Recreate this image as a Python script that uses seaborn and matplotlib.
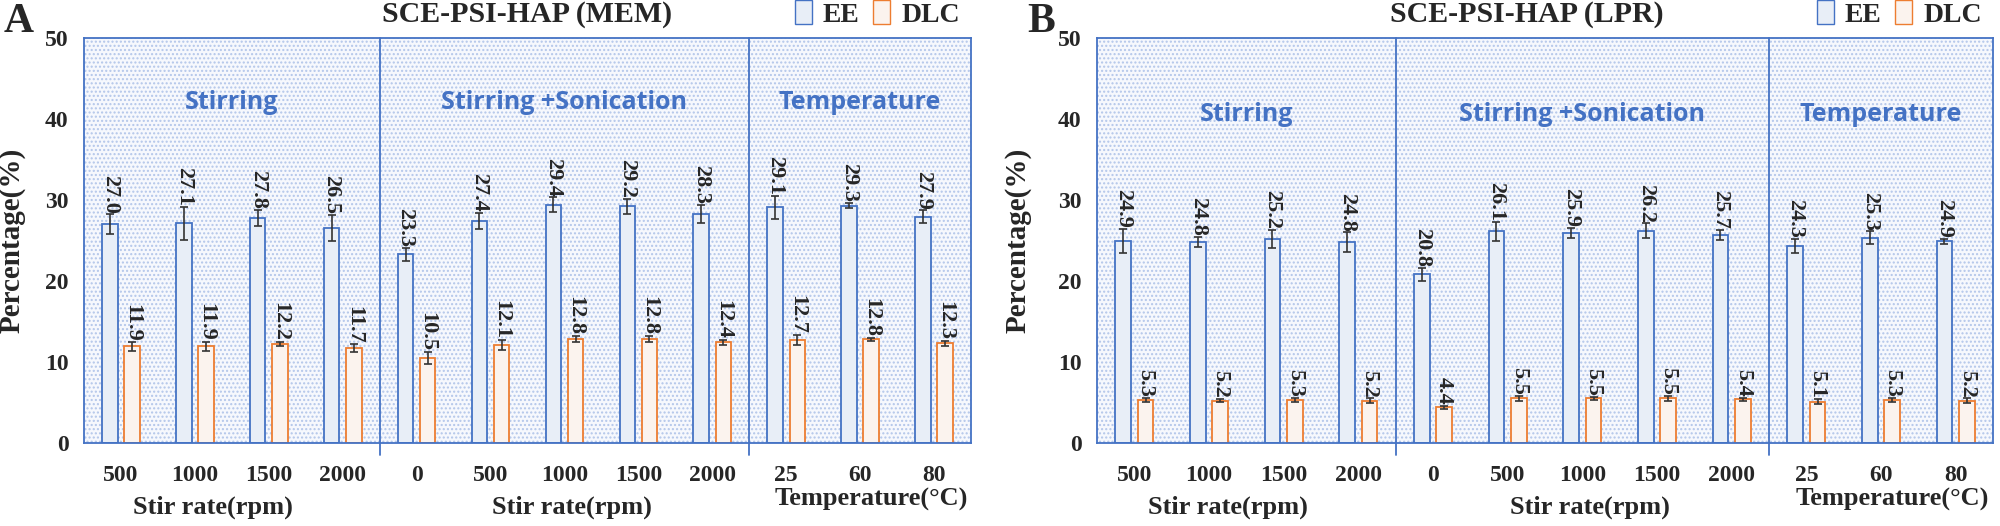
import numpy as np
import pandas as pd
import matplotlib
matplotlib.use('Agg')
import matplotlib.pyplot as plt
import seaborn as sns
from matplotlib.patches import Rectangle
from matplotlib.transforms import blended_transform_factory

# Данные
tick_labels = ['500', '1000', '1500', '2000', '0', '500', '1000', '1500', '2000', '25', '60', '80']
sections = ['Stirring', 'Stirring +Sonication', 'Temperature']
section_xlabels = ['Stir rate(rpm)', 'Stir rate(rpm)', 'Temperature(\u00b0C)']

mem_ee = [27.0, 27.1, 27.8, 26.5, 23.3, 27.4, 29.4, 29.2, 28.3, 29.1, 29.3, 27.9]
mem_ee_err = [1.2, 2.0, 1.0, 1.6, 0.8, 1.0, 0.9, 0.9, 1.1, 1.4, 0.3, 0.8]
mem_dlc = [11.9, 11.9, 12.2, 11.7, 10.5, 12.1, 12.8, 12.8, 12.4, 12.7, 12.8, 12.3]
mem_dlc_err = [0.5, 0.6, 0.3, 0.5, 0.7, 0.6, 0.4, 0.4, 0.3, 0.6, 0.2, 0.3]

lpr_ee = [24.9, 24.8, 25.2, 24.8, 20.8, 26.1, 25.9, 26.2, 25.7, 24.3, 25.3, 24.9]
lpr_ee_err = [1.5, 0.6, 1.1, 1.2, 0.8, 1.2, 0.6, 0.9, 0.6, 0.9, 0.8, 0.3]
lpr_dlc = [5.3, 5.2, 5.3, 5.2, 4.4, 5.5, 5.5, 5.5, 5.4, 5.1, 5.3, 5.2]
lpr_dlc_err = [0.3, 0.2, 0.3, 0.3, 0.2, 0.3, 0.2, 0.3, 0.2, 0.3, 0.3, 0.3]

BLUE = '#4472C4'
ORANGE = '#ED7D31'
serif = 'Liberation Serif'

sns.set_style('white')
plt.rcParams['font.family'] = [serif, 'DejaVu Sans']

fig = plt.figure(figsize=(20, 5.26), dpi=100)
ax_a = fig.add_axes([0.042, 0.158, 0.4435, 0.77])
ax_b = fig.add_axes([0.5485, 0.158, 0.448, 0.77])


def draw_panel(ax, ee, ee_err, dlc, dlc_err, title, letter, letter_x, sec_y, ylab_x, title_x):
    df = pd.DataFrame({
        'pos': list(range(len(ee))) * 2,
        'value': ee + dlc,
        'series': ['EE'] * len(ee) + ['DLC'] * len(dlc),
    })
    # фон в точку
    ax.add_patch(Rectangle((0, 0), 1, 1, transform=ax.transAxes, facecolor='#f6f8fd',
                           edgecolor='#b3c6ea', hatch='....', lw=0, zorder=0))
    sns.barplot(data=df, x='pos', y='value', hue='series', hue_order=['EE', 'DLC'],
                palette={'EE': '#e6edf9', 'DLC': '#fdf3ec'}, width=0.6, gap=0.3,
                errorbar=None, ax=ax, zorder=2)
    for cont, edge in zip(ax.containers, [BLUE, ORANGE]):
        for bar in cont:
            bar.set_edgecolor(edge)
            bar.set_linewidth(1.3)
    # погрешности и подписи значений
    for cont, vals, errs in zip(ax.containers, [ee, dlc], [ee_err, dlc_err]):
        xs = [b.get_x() + b.get_width() / 2 for b in cont]
        ax.errorbar(xs, vals, yerr=errs, fmt='none', ecolor='#333333', elinewidth=1.2,
                    capsize=3, capthick=1.2, zorder=4)
        for x, v, e in zip(xs, vals, errs):
            ax.text(x, v + e + 0.1, f'{v:.1f}', rotation=270, ha='center', va='bottom',
                    fontsize=16, fontweight='bold', family=serif, zorder=5)

    ax.set_xlim(-0.5, 11.5)
    ax.set_ylim(0, 50)
    ax.set_yticks([0, 10, 20, 30, 40, 50])
    ax.set_xticks(range(12))
    ax.set_xticklabels(tick_labels, fontsize=17, fontweight='bold', family=serif)
    ax.tick_params(axis='x', length=0, pad=16)
    ax.tick_params(axis='y', direction='in', length=7, width=1.2, color=BLUE, pad=11,
                   labelsize=17)
    for lab in ax.get_yticklabels():
        lab.set_fontweight('bold')
    ax.set_xlabel('')
    ax.set_ylabel('Percentage(%)', fontsize=21, fontweight='bold', family=serif)
    ax.yaxis.set_label_coords(ylab_x, 0.5)
    for sp in ax.spines.values():
        sp.set_color(BLUE)
        sp.set_linewidth(1.3)

    # разделители разделов
    for xb in [3.5, 8.5]:
        ax.axvline(xb, ymin=-0.03, ymax=1, color=BLUE, lw=1.3, clip_on=False, zorder=3)

    trans = blended_transform_factory(ax.transData, ax.transAxes)
    centers = [1.5, 6.0, 10.0]
    xl_centers = [1.25, 6.1, 10.15]
    xl_y = [-0.16, -0.16, -0.14]
    for c, name in zip(centers, sections):
        ax.text(c, sec_y, name, color=BLUE, fontsize=18, fontweight='bold', family='Open Sans',
                ha='center', va='center', zorder=5)
    for c, name, yy in zip(xl_centers, section_xlabels, xl_y):
        ax.text(c, yy, name, transform=trans, fontsize=19, fontweight='bold', family=serif,
                ha='center', va='center')

    ax.text(title_x, 1.057, title, transform=ax.transAxes, fontsize=21.5, fontweight='bold',
            family=serif, ha='center', va='center')
    fig.text(letter_x, 0.958, letter, fontsize=30, fontweight='bold', family=serif,
             ha='left', va='center')

    sns.move_legend(ax, 'center right', bbox_to_anchor=(1.0, 1.06), ncol=2, frameon=False,
                    title=None, fontsize=20, handlelength=0.6, handleheight=1.0,
                    columnspacing=0.5, handletextpad=0.4, borderaxespad=0)
    leg = ax.get_legend()
    for txt in leg.get_texts():
        txt.set_fontweight('bold')
        txt.set_family(serif)
    for h, edge in zip(leg.legend_handles, [BLUE, ORANGE]):
        h.set_edgecolor(edge)
        h.set_linewidth(1.0)


draw_panel(ax_a, mem_ee, mem_ee_err, mem_dlc, mem_dlc_err, 'SCE-PSI-HAP (MEM)', 'A',
           0.002, 42, -0.066, 0.5)
draw_panel(ax_b, lpr_ee, lpr_ee_err, lpr_dlc, lpr_dlc_err, 'SCE-PSI-HAP (LPR)', 'B',
           0.5135, 40.5, -0.073, 0.48)

fig.savefig('out.png', dpi=100, facecolor='white')
